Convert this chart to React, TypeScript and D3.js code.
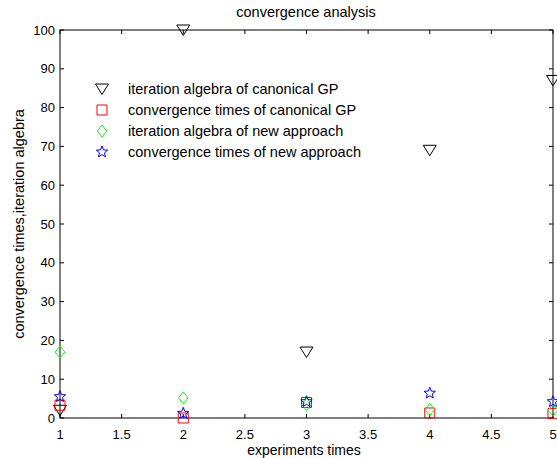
import { useEffect, useRef } from "react";
import * as d3 from "d3";

// data
const experiments = [1, 2, 3, 4, 5];
const iterCanonical = [2, 100, 17, 69, 87];
const convCanonical = [3.3, 0, 4, 1.3, 1.2];
const iterNew = [17, 5.2, 3.5, 2.2, 2];
const convNew = [5.5, 1.2, 4.2, 6.4, 4.2];
const xTicks = [1, 1.5, 2, 2.5, 3, 3.5, 4, 4.5, 5];
const yTicks = [0, 10, 20, 30, 40, 50, 60, 70, 80, 90, 100];

const series = [
    { name: "iteration algebra of canonical GP", values: iterCanonical, color: "#000000", shape: "tri" },
    { name: "convergence times of canonical GP", values: convCanonical, color: "#ff0000", shape: "square" },
    { name: "iteration algebra of new approach", values: iterNew, color: "#00ff00", shape: "diamond" },
    { name: "convergence times of new approach", values: convNew, color: "#0000ff", shape: "star" },
];

function markerPath(shape: string) {
    if (shape === "tri") return "M-6.5,-5L6.5,-5L0,5.5Z";
    if (shape === "square") return "M-5,-5L5,-5L5,5L-5,5Z";
    if (shape === "diamond") return "M0,-6L4.8,0L0,6L-4.8,0Z";
    // pentagram
    const pts: string[] = [];
    for (let i = 0; i < 10; i++) {
        const r = i % 2 === 0 ? 6 : 2.6;
        const a = -Math.PI / 2 + (i * Math.PI) / 5;
        pts.push(`${(r * Math.cos(a)).toFixed(2)},${(r * Math.sin(a)).toFixed(2)}`);
    }
    return "M" + pts.join("L") + "Z";
}

export default function App() {
    const ref = useRef<SVGSVGElement>(null);

    useEffect(() => {
        const svg = d3.select(ref.current);
        svg.selectAll("*").remove();

        const left = 60, right = 553, top = 30, bottom = 418;
        const x = d3.scaleLinear().domain([1, 5]).range([left, right]);
        const y = d3.scaleLinear().domain([0, 100]).range([bottom, top]);
        const font = "'Liberation Sans', Arial, sans-serif";

        svg.append("rect").attr("width", 557).attr("height", 458).attr("fill", "#fff");

        // box
        svg.append("rect")
            .attr("x", left).attr("y", top)
            .attr("width", right - left).attr("height", bottom - top)
            .attr("fill", "none").attr("stroke", "#000").attr("stroke-width", 1);

        // ticks
        const g = svg.append("g");
        xTicks.forEach((t) => {
            g.append("line").attr("x1", x(t)).attr("x2", x(t)).attr("y1", bottom).attr("y2", bottom - 4).attr("stroke", "#000");
            g.append("line").attr("x1", x(t)).attr("x2", x(t)).attr("y1", top).attr("y2", top + 4).attr("stroke", "#000");
            g.append("text").attr("x", x(t)).attr("y", bottom + 21)
                .attr("text-anchor", "middle").attr("font-family", font).attr("font-size", 13)
                .text(String(t));
        });
        yTicks.forEach((t) => {
            g.append("line").attr("x1", left).attr("x2", left + 4).attr("y1", y(t)).attr("y2", y(t)).attr("stroke", "#000");
            g.append("line").attr("x1", right).attr("x2", right - 4).attr("y1", y(t)).attr("y2", y(t)).attr("stroke", "#000");
            g.append("text").attr("x", left - 5).attr("y", y(t) + 4.5)
                .attr("text-anchor", "end").attr("font-family", font).attr("font-size", 13)
                .text(String(t));
        });

        // titles
        svg.append("text").attr("x", 306).attr("y", 17)
            .attr("text-anchor", "middle").attr("font-family", font).attr("font-size", 14.5)
            .text("convergence analysis");
        svg.append("text").attr("x", 304).attr("y", 454.5)
            .attr("text-anchor", "middle").attr("font-family", font).attr("font-size", 14)
            .text("experiments times");
        svg.append("text")
            .attr("transform", `translate(24,224) rotate(-90)`)
            .attr("text-anchor", "middle").attr("font-family", font).attr("font-size", 14.5)
            .text("convergence times,iteration algebra");

        // markers
        series.forEach((s) => {
            svg.append("g").selectAll("path")
                .data(s.values)
                .enter().append("path")
                .attr("d", markerPath(s.shape))
                .attr("transform", (d, i) => `translate(${x(experiments[i])},${y(d)})`)
                .attr("fill", "none").attr("stroke", s.color).attr("stroke-width", 1);
        });

        // legend
        const leg = svg.append("g");
        series.forEach((s, i) => {
            const ly = 89 + i * 21;
            leg.append("path").attr("d", markerPath(s.shape))
                .attr("transform", `translate(102,${ly})`)
                .attr("fill", "none").attr("stroke", s.color);
            leg.append("text").attr("x", 128).attr("y", ly + 4.5)
                .attr("font-family", font).attr("font-size", 14.5)
                .text(s.name);
        });
    }, []);

    return (
        <svg ref={ref} width={557} height={458}
            style={{ position: "absolute", left: 0, top: 0, display: "block" }}></svg>
    );
}
